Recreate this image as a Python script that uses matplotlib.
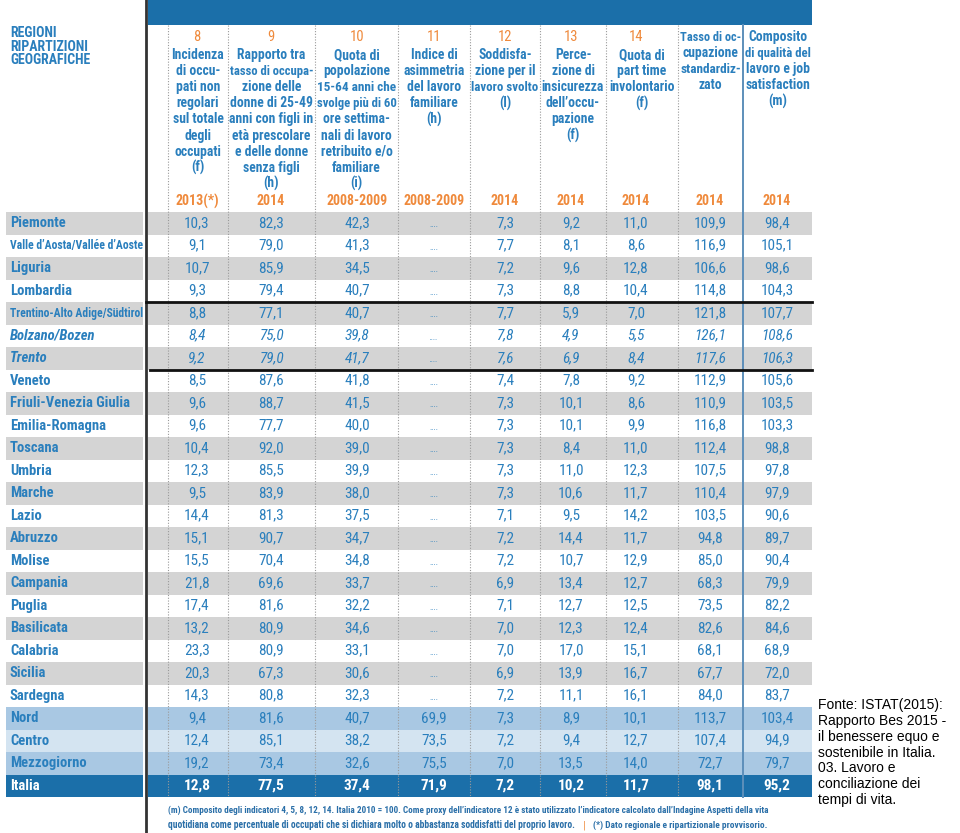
import matplotlib

matplotlib.use("Agg")
import matplotlib.pyplot as plt
from matplotlib.font_manager import fontManager
from matplotlib.patches import Rectangle

# ---- data -------------------------------------------------------------
REGIONS = [
    "Piemonte", "Valle d’Aosta/Vallée d’Aoste", "Liguria", "Lombardia",
    "Trentino-Alto Adige/Südtirol", "Bolzano/Bozen", "Trento", "Veneto",
    "Friuli-Venezia Giulia", "Emilia-Romagna", "Toscana", "Umbria", "Marche",
    "Lazio", "Abruzzo", "Molise", "Campania", "Puglia", "Basilicata",
    "Calabria", "Sicilia", "Sardegna", "Nord", "Centro", "Mezzogiorno", "Italia",
]
OCCUPATI_NON_REGOLARI = [10.3, 9.1, 10.7, 9.3, 8.8, 8.4, 9.2, 8.5, 9.6, 9.6, 10.4, 12.3, 9.5,
                         14.4, 15.1, 15.5, 21.8, 17.4, 13.2, 23.3, 20.3, 14.3, 9.4, 12.4, 19.2, 12.8]
RAPPORTO_OCCUPAZIONE_DONNE = [82.3, 79.0, 85.9, 79.4, 77.1, 75.0, 79.0, 87.6, 88.7, 77.7, 92.0, 85.5, 83.9,
                              81.3, 90.7, 70.4, 69.6, 81.6, 80.9, 80.9, 67.3, 80.8, 81.6, 85.1, 73.4, 77.5]
QUOTA_60_ORE = [42.3, 41.3, 34.5, 40.7, 40.7, 39.8, 41.7, 41.8, 41.5, 40.0, 39.0, 39.9, 38.0,
                37.5, 34.7, 34.8, 33.7, 32.2, 34.6, 33.1, 30.6, 32.3, 40.7, 38.2, 32.6, 37.4]
ASIMMETRIA_LAVORO_FAMILIARE = [None] * 22 + [69.9, 73.5, 75.5, 71.9]
SODDISFAZIONE_LAVORO = [7.3, 7.7, 7.2, 7.3, 7.7, 7.8, 7.6, 7.4, 7.3, 7.3, 7.3, 7.3, 7.3,
                        7.1, 7.2, 7.2, 6.9, 7.1, 7.0, 7.0, 6.9, 7.2, 7.3, 7.2, 7.0, 7.2]
INSICUREZZA_OCCUPAZIONE = [9.2, 8.1, 9.6, 8.8, 5.9, 4.9, 6.9, 7.8, 10.1, 10.1, 8.4, 11.0, 10.6,
                           9.5, 14.4, 10.7, 13.4, 12.7, 12.3, 17.0, 13.9, 11.1, 8.9, 9.4, 13.5, 10.2]
PART_TIME_INVOLONTARIO = [11.0, 8.6, 12.8, 10.4, 7.0, 5.5, 8.4, 9.2, 8.6, 9.9, 11.0, 12.3, 11.7,
                          14.2, 11.7, 12.9, 12.7, 12.5, 12.4, 15.1, 16.7, 16.1, 10.1, 12.7, 14.0, 11.7]
TASSO_OCCUPAZIONE_STD = [109.9, 116.9, 106.6, 114.8, 121.8, 126.1, 117.6, 112.9, 110.9, 116.8, 112.4,
                         107.5, 110.4, 103.5, 94.8, 85.0, 68.3, 73.5, 82.6, 68.1, 67.7, 84.0,
                         113.7, 107.4, 72.7, 98.1]
COMPOSITO_QUALITA = [98.4, 105.1, 98.6, 104.3, 107.7, 108.6, 106.3, 105.6, 103.5, 103.3, 98.8,
                     97.8, 97.9, 90.6, 89.7, 90.4, 79.9, 82.2, 84.6, 68.9, 72.0, 83.7,
                     103.4, 94.9, 79.7, 95.2]

COLUMNS = [OCCUPATI_NON_REGOLARI, RAPPORTO_OCCUPAZIONE_DONNE, QUOTA_60_ORE,
           ASIMMETRIA_LAVORO_FAMILIARE, SODDISFAZIONE_LAVORO, INSICUREZZA_OCCUPAZIONE,
           PART_TIME_INVOLONTARIO, TASSO_OCCUPAZIONE_STD, COMPOSITO_QUALITA]
COL_NUMBERS = ["8", "9", "10", "11", "12", "13", "14", "", ""]
COL_TITLES = [
    "Incidenza\ndi occu-\npati non\nregolari\nsul totale\ndegli\noccupati\n(f)",
    "Rapporto tra\ntasso di occupa-\nzione delle\ndonne di 25-49\nanni con figli in\netà prescolare\ne delle donne\nsenza figli\n(h)",
    "Quota di\npopolazione\n15-64 anni che\nsvolge più di 60\nore settima-\nnali di lavoro\nretribuito e/o\nfamiliare\n(i)",
    "Indice di\nasimmetria\ndel lavoro\nfamiliare\n(h)",
    "Soddisfa-\nzione per il\nlavoro svolto\n(l)",
    "Perce-\nzione di\ninsicurezza\ndell’occu-\npazione\n(f)",
    "Quota di\npart time\ninvolontario\n(f)",
    "Tasso di oc-\ncupazione\nstandardiz-\nzato",
    "Composito\ndi qualità del\nlavoro e job\nsatisfaction\n(m)",
]
COL_YEARS = ["2013(*)", "2014", "2008-2009", "2008-2009", "2014", "2014", "2014", "2014", "2014"]

NOTE_1 = ("(m) Composito degli indicatori 4, 5, 8, 12, 14. Italia 2010 = 100. Come proxy dell’indicatore 12 "
          "è stato utilizzato l’indicatore calcolato dall’Indagine Aspetti della vita")
NOTE_2A = ("quotidiana come percentuale di occupati che si dichiara molto o abbastanza "
           "soddisfatti del proprio lavoro.")
NOTE_2B = "(*) Dato regionale e ripartizionale provvisorio."
SOURCE = ("Fonte: ISTAT(2015):\nRapporto Bes 2015 -\nil benessere equo e\nsostenibile in Italia.\n"
          "03. Lavoro e\nconciliazione dei\ntempi di vita.")

# ---- style ------------------------------------------------------------
available = {f.name for f in fontManager.ttflist}
narrow = [n for n in ("Liberation Sans Narrow", "DejaVu Sans Condensed", "Roboto Condensed") if n in available]
plt.rcParams["font.family"] = narrow + ["Liberation Sans", "DejaVu Sans"]

BLUE_DARK = "#1b6fa9"
BLUE_TEXT = "#2a7fbd"
ORANGE = "#ef8a3c"
GRAY_ROW = "#d4d4d4"
ROW_COLORS = {"Nord": "#a9c8e3", "Centro": "#d4e4f1", "Mezzogiorno": "#a9c8e3", "Italia": BLUE_DARK}
ITALIC_ROWS = {"Bolzano/Bozen", "Trento"}

COL_X = [197, 271, 357, 434, 505, 571, 636, 710, 777]
DOTTED_X = [168, 228, 315, 398, 470, 540, 606, 678]
SOLID_X = 743
TABLE_LEFT, TABLE_RIGHT = 148, 812
ROW_TOP, ROW_H = 212, 22.5

fig = plt.figure(figsize=(9.6, 8.33), dpi=100)
ax = fig.add_axes([0, 0, 1, 1])
ax.set_xlim(0, 960)
ax.set_ylim(833, 0)
ax.axis("off")
renderer = fig.canvas.get_renderer()


def fit(t, max_w):
    w = t.get_window_extent(renderer).width
    if w > max_w:
        t.set_fontsize(t.get_fontsize() * max_w / w)
    return t


def fmt(v):
    return "...." if v is None else f"{v:.1f}".replace(".", ",")


# header band
ax.add_patch(Rectangle((TABLE_LEFT, 0), TABLE_RIGHT - TABLE_LEFT, 25, color=BLUE_DARK, lw=0))
for i, line in enumerate(["REGIONI", "RIPARTIZIONI", "GEOGRAFICHE"]):
    ax.text(10, 33 + i * 13.5, line, color=BLUE_TEXT, fontsize=10, fontweight="bold",
            ha="left", va="center")

# row backgrounds
for i, name in enumerate(REGIONS):
    y0 = ROW_TOP + i * ROW_H
    color = ROW_COLORS.get(name, GRAY_ROW if i % 2 == 0 else None)
    if color:
        ax.add_patch(Rectangle((6, y0), 137, ROW_H, color=color, lw=0))
        ax.add_patch(Rectangle((TABLE_LEFT, y0), TABLE_RIGHT - TABLE_LEFT, ROW_H, color=color, lw=0))

# column separators
for x in DOTTED_X:
    ax.plot([x, x], [25, ROW_TOP + len(REGIONS) * ROW_H], color="#9a9a9a", lw=0.8, ls=(0, (1, 1.5)))
ax.plot([SOLID_X, SOLID_X], [25, ROW_TOP + len(REGIONS) * ROW_H], color="#5d8fba", lw=1.4)
ax.plot([146, 146], [0, 833], color="#333333", lw=2)

# column headers, centred between the separators
for x, num, title, year, col_left, col_right in zip(
        COL_X, COL_NUMBERS, COL_TITLES, COL_YEARS,
        DOTTED_X + [SOLID_X], DOTTED_X[1:] + [SOLID_X, TABLE_RIGHT]):
    mid = (col_left + col_right) / 2
    width = col_right - col_left - 3
    start = 37
    if num:
        ax.text(x, 37, num, color=ORANGE, fontsize=10.5, ha="center", va="center")
        start = 55
    for j, line in enumerate(title.split("\n")):
        fit(ax.text(mid, start + j * 16.1, line, color=BLUE_TEXT, fontsize=9.8, fontweight="bold",
                    ha="center", va="center"), width)
    ax.text(x, 201, year, color=ORANGE, fontsize=10, fontweight="bold", ha="center", va="center")

# body
for i, name in enumerate(REGIONS):
    yc = ROW_TOP + (i + 0.5) * ROW_H
    style = "italic" if name in ITALIC_ROWS else "normal"
    txt_color = "white" if name == "Italia" else BLUE_TEXT
    fit(ax.text(10, yc, name, color=txt_color, fontsize=10.5, fontweight="bold", fontstyle=style,
                ha="left", va="center"), 134)
    for x, values in zip(COL_X, COLUMNS):
        v = values[i]
        ax.text(x, yc if v is not None else yc + 2, fmt(v), color=txt_color,
                fontsize=11 if v is not None else 6,
                fontweight="bold" if name == "Italia" else "normal", fontstyle=style,
                ha="center", va="center")

# thick rules around Trentino-Alto Adige
for k in (4, 7):
    y = ROW_TOP + k * ROW_H
    ax.plot([146 if k == 4 else 150, TABLE_RIGHT], [y, y], color="#111111", lw=2)

# footnotes
fit(ax.text(168, 810, NOTE_1, color="#2a6fa8", fontsize=8, fontweight="bold", ha="left", va="center"), 602)
fit(ax.text(168, 825, NOTE_2A, color="#2a6fa8", fontsize=8, fontweight="bold", ha="left", va="center"), 407)
ax.text(584, 825, "|", color=ORANGE, fontsize=8, ha="center", va="center")
fit(ax.text(593, 825, NOTE_2B, color="#2a6fa8", fontsize=8, fontweight="bold", ha="left", va="center"), 172)

# source
ax.text(818, 698, SOURCE, family=["Liberation Sans", "DejaVu Sans"], fontsize=10, color="black",
        ha="left", va="top", linespacing=1.17)

fig.savefig("out.png", dpi=100)
